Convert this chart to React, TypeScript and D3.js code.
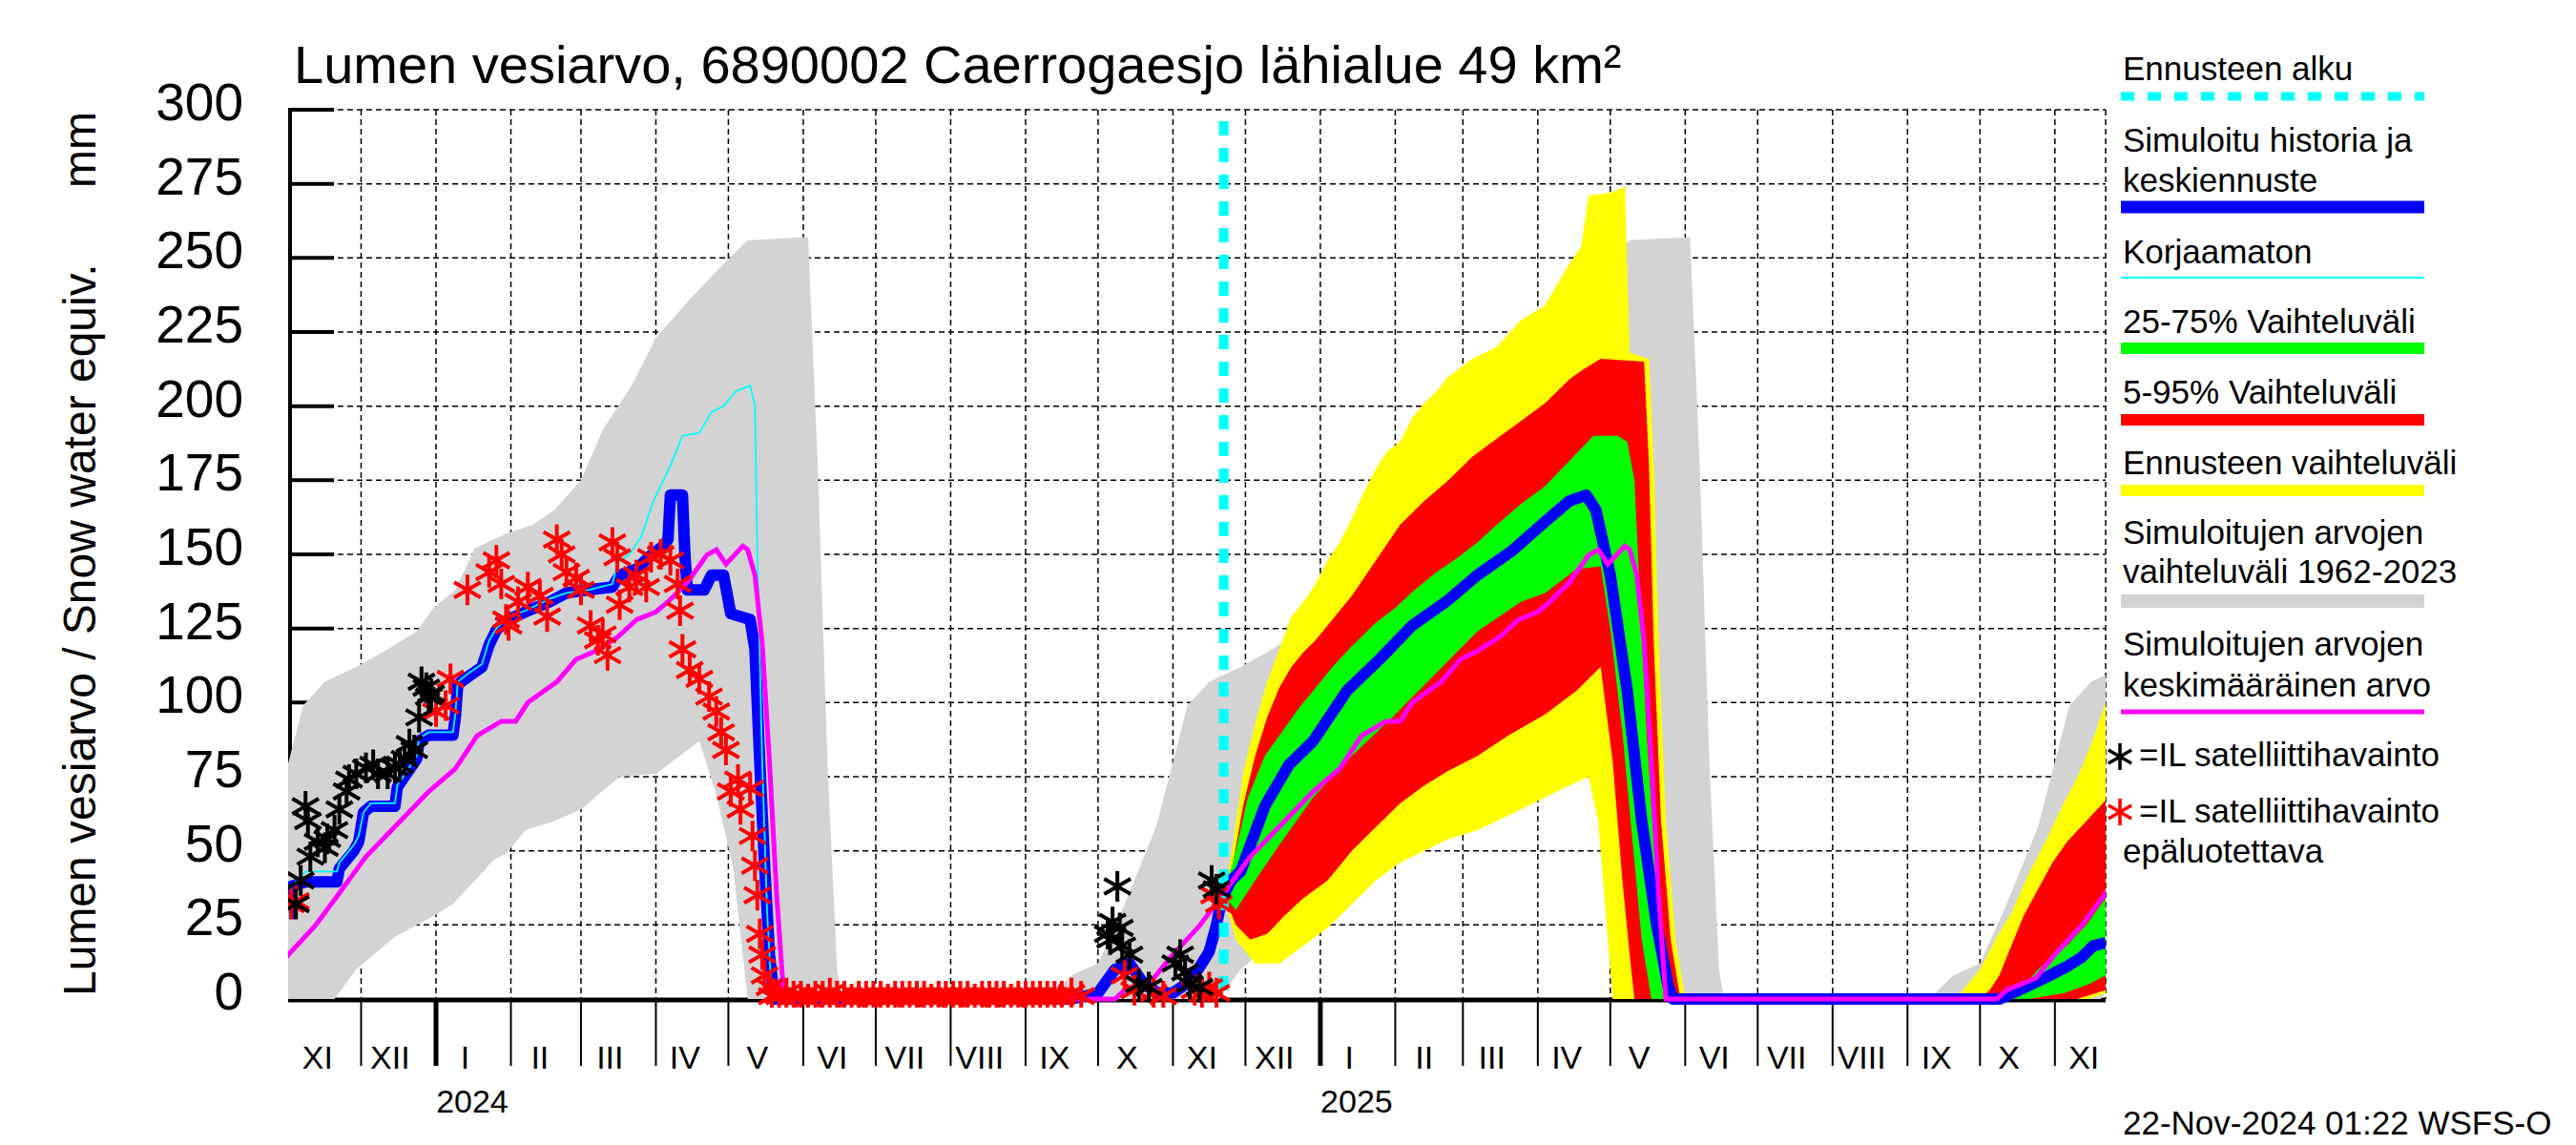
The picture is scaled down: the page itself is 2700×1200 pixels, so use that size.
import React from "react";
import * as d3 from "d3";

type P = [string, number];

const DOMAIN: [string, string] = ["2023-11-01", "2025-11-22"];
const FORECAST_START = "2024-11-22";
const Y_TICKS = [0, 25, 50, 75, 100, 125, 150, 175, 200, 225, 250, 275, 300];
const MONTH_LABELS = ["I", "II", "III", "IV", "V", "VI", "VII", "VIII", "IX", "X", "XI", "XII"];
const SEASONS = [2023, 2024, 2025];
const TITLE = "Lumen vesiarvo, 6890002 Caerrogaesjo lähialue 49 km²";
const Y_LABEL = "Lumen vesiarvo / Snow water equiv.";
const Y_UNIT = "mm";
const FOOTER = "22-Nov-2024 01:22 WSFS-O";

// Seasonal profiles (month-day) of simulated values 1962-2023
const simUpper: P[] = [
  ["09-10", 0], ["09-20", 8], ["10-01", 12], ["10-11", 30], ["10-25", 58], ["11-01", 80], ["11-07", 99],
  ["11-16", 107], ["11-29", 112], ["12-12", 118], ["12-24", 124], ["12-31", 132], ["01-09", 138],
  ["01-17", 152], ["01-30", 157], ["02-10", 160], ["02-19", 165], ["03-01", 175], ["03-10", 192],
  ["03-22", 207], ["04-01", 223], ["04-15", 236], ["04-29", 248], ["05-09", 256], ["06-03", 257],
  ["06-07", 180], ["06-11", 80], ["06-15", 10], ["06-17", 0],
];
const simLower: P[] = [
  ["09-10", 0], ["11-20", 0], ["11-29", 10], ["12-15", 21], ["12-31", 28], ["01-08", 32], ["01-25", 47],
  ["01-30", 49], ["02-07", 57], ["02-19", 60], ["03-01", 64], ["03-17", 75], ["04-01", 76], ["04-19", 87],
  ["04-26", 69], ["05-03", 44], ["05-09", 0],
];
const simMean: P[] = [
  ["10-08", 0], ["10-12", 3], ["10-18", 5], ["10-24", 7], ["11-01", 15], ["11-12", 24.7], ["11-21", 34.6],
  ["12-03", 48], ["12-16", 59], ["12-29", 70], ["01-09", 77.7], ["01-18", 88.8], ["01-28", 93.7],
  ["02-03", 93.7], ["02-08", 100], ["02-20", 107], ["02-28", 114.6], ["03-06", 117], ["03-16", 122],
  ["03-24", 128], ["04-01", 130.6], ["04-06", 134], ["04-14", 140.5], ["04-22", 149.7], ["04-26", 151.6],
  ["04-30", 146.7], ["05-07", 152.8], ["05-09", 151.6], ["05-12", 143], ["05-15", 120], ["05-18", 80],
  ["05-21", 35], ["05-24", 0],
];

// Simulated history + median forecast
const simulated: P[] = [
  ["2023-11-01", 27], ["2023-11-02", 38], ["2023-11-08", 39.5], ["2023-11-21", 39.5], ["2023-11-22", 44],
  ["2023-11-28", 50], ["2023-11-30", 53], ["2023-12-02", 63], ["2023-12-05", 65], ["2023-12-15", 65],
  ["2023-12-16", 71.5], ["2023-12-24", 81], ["2023-12-25", 87], ["2023-12-29", 89], ["2024-01-08", 89],
  ["2024-01-09", 95], ["2024-01-10", 106], ["2024-01-13", 108], ["2024-01-20", 112], ["2024-01-23", 119.5],
  ["2024-01-26", 124.5], ["2024-01-31", 128], ["2024-02-07", 130.6], ["2024-02-17", 134], ["2024-02-24", 137],
  ["2024-03-04", 138], ["2024-03-14", 139], ["2024-03-17", 143], ["2024-03-24", 145], ["2024-03-29", 149],
  ["2024-04-04", 152.8], ["2024-04-06", 155], ["2024-04-07", 170], ["2024-04-12", 170], ["2024-04-13", 150],
  ["2024-04-14", 138], ["2024-04-21", 138], ["2024-04-24", 143], ["2024-04-29", 143], ["2024-05-02", 130],
  ["2024-05-10", 128], ["2024-05-12", 118], ["2024-05-14", 80], ["2024-05-16", 45], ["2024-05-18", 15],
  ["2024-05-20", 0], ["2024-09-20", 0], ["2024-10-01", 2], ["2024-10-08", 10], ["2024-10-14", 12],
  ["2024-10-20", 5], ["2024-10-26", 2], ["2024-11-01", 2], ["2024-11-08", 6], ["2024-11-13", 12],
  ["2024-11-16", 16], ["2024-11-19", 25], ["2024-11-21", 33], ["2024-11-22", 35],
  ["2024-11-25", 40], ["2024-11-29", 43], ["2024-12-09", 65], ["2024-12-19", 79], ["2024-12-29", 87],
  ["2025-01-12", 104], ["2025-01-26", 115], ["2025-02-08", 126], ["2025-02-22", 134], ["2025-03-07", 143],
  ["2025-03-21", 151], ["2025-04-04", 161], ["2025-04-14", 168], ["2025-04-21", 170], ["2025-04-25", 165],
  ["2025-05-01", 143], ["2025-05-08", 104], ["2025-05-14", 60], ["2025-05-20", 26], ["2025-05-25", 4],
  ["2025-05-27", 0], ["2025-10-09", 0], ["2025-10-17", 3], ["2025-10-25", 6], ["2025-10-30", 8],
  ["2025-11-06", 11], ["2025-11-12", 14], ["2025-11-17", 18], ["2025-11-22", 19],
];

// Uncorrected
const uncorrected: P[] = [
  ["2023-11-01", 27], ["2023-11-02", 38], ["2023-11-08", 43], ["2023-11-21", 43], ["2023-11-22", 46],
  ["2023-11-28", 52], ["2023-11-30", 55], ["2023-12-02", 63], ["2023-12-05", 66], ["2023-12-15", 66],
  ["2023-12-16", 72], ["2023-12-24", 82], ["2023-12-25", 88], ["2023-12-29", 90], ["2024-01-08", 90],
  ["2024-01-09", 96], ["2024-01-10", 107], ["2024-01-13", 109], ["2024-01-20", 113], ["2024-01-23", 121],
  ["2024-01-26", 125], ["2024-01-31", 129], ["2024-02-07", 131], ["2024-02-17", 135], ["2024-02-24", 137],
  ["2024-03-04", 138], ["2024-03-14", 140], ["2024-03-16", 147], ["2024-03-21", 150], ["2024-03-26", 156],
  ["2024-03-31", 168], ["2024-04-07", 180], ["2024-04-12", 190], ["2024-04-19", 191], ["2024-04-24", 198],
  ["2024-04-29", 200], ["2024-05-04", 205], ["2024-05-10", 207], ["2024-05-12", 200], ["2024-05-13", 150],
  ["2024-05-15", 80], ["2024-05-17", 30], ["2024-05-19", 0],
];

// Forecast ranges
const fcMaxUpper: P[] = [
  ["2024-11-22", 35], ["2024-11-25", 48], ["2024-11-30", 76], ["2024-12-05", 93], ["2024-12-10", 107],
  ["2024-12-15", 118], ["2024-12-20", 129], ["2024-12-25", 134], ["2024-12-30", 140], ["2025-01-04", 148],
  ["2025-01-09", 154], ["2025-01-14", 162], ["2025-01-19", 171], ["2025-01-24", 179], ["2025-01-29", 185],
  ["2025-02-03", 188], ["2025-02-08", 196], ["2025-02-13", 201], ["2025-02-18", 205], ["2025-02-23", 210],
  ["2025-03-05", 216], ["2025-03-15", 220], ["2025-03-25", 229], ["2025-04-04", 234], ["2025-04-14", 248],
  ["2025-04-19", 254], ["2025-04-22", 271], ["2025-05-01", 272], ["2025-05-07", 274], ["2025-05-09", 218],
  ["2025-05-17", 216], ["2025-05-19", 180], ["2025-05-21", 120], ["2025-05-24", 60], ["2025-05-28", 20],
  ["2025-06-01", 0], ["2025-09-21", 0], ["2025-09-26", 5], ["2025-10-01", 10], ["2025-10-08", 21],
  ["2025-10-14", 29], ["2025-10-21", 42], ["2025-10-28", 53], ["2025-11-04", 65], ["2025-11-11", 76],
  ["2025-11-17", 88], ["2025-11-22", 100],
];
const fcMinLower: P[] = [
  ["2024-11-22", 35], ["2024-11-27", 20], ["2024-12-05", 12], ["2024-12-15", 12], ["2024-12-25", 18],
  ["2025-01-04", 24], ["2025-01-14", 32], ["2025-01-24", 40], ["2025-02-03", 46], ["2025-02-13", 50],
  ["2025-02-23", 54], ["2025-03-07", 57], ["2025-03-20", 62], ["2025-04-04", 68], ["2025-04-14", 72],
  ["2025-04-22", 75], ["2025-04-26", 60], ["2025-04-29", 30], ["2025-05-02", 0], ["2025-11-15", 0],
  ["2025-11-22", 2],
];
const fc95: P[] = [
  ["2024-11-22", 35], ["2024-11-25", 42], ["2024-11-30", 65], ["2024-12-05", 82], ["2024-12-10", 95],
  ["2024-12-15", 105], ["2024-12-20", 112], ["2024-12-25", 117], ["2024-12-30", 121], ["2025-01-04", 126],
  ["2025-01-14", 136], ["2025-01-24", 148], ["2025-02-03", 160], ["2025-02-13", 168], ["2025-02-23", 175],
  ["2025-03-05", 183], ["2025-03-15", 189], ["2025-03-25", 195], ["2025-04-04", 201], ["2025-04-14", 209],
  ["2025-04-19", 212], ["2025-04-27", 216], ["2025-05-15", 215], ["2025-05-17", 180], ["2025-05-19", 120],
  ["2025-05-22", 60], ["2025-05-26", 20], ["2025-05-30", 0], ["2025-10-01", 0], ["2025-10-05", 3],
  ["2025-10-09", 8], ["2025-10-14", 18], ["2025-10-19", 28], ["2025-10-25", 37], ["2025-10-31", 46],
  ["2025-11-06", 53], ["2025-11-14", 60], ["2025-11-22", 67],
];
const fc5: P[] = [
  ["2024-11-22", 35], ["2024-11-27", 25], ["2024-12-03", 20], ["2024-12-10", 22], ["2024-12-17", 28],
  ["2024-12-25", 34], ["2025-01-04", 40], ["2025-01-14", 50], ["2025-01-24", 58], ["2025-02-03", 66],
  ["2025-02-13", 72], ["2025-02-23", 77], ["2025-03-07", 82], ["2025-03-20", 89], ["2025-04-04", 96],
  ["2025-04-17", 104], ["2025-04-27", 112], ["2025-05-02", 80], ["2025-05-06", 40], ["2025-05-09", 15],
  ["2025-05-11", 0], ["2025-11-10", 0], ["2025-11-22", 3],
];
const fc75: P[] = [
  ["2024-11-22", 35], ["2024-11-27", 50], ["2024-12-02", 68], ["2024-12-09", 82], ["2024-12-16", 90],
  ["2024-12-23", 98], ["2024-12-29", 104], ["2025-01-06", 112], ["2025-01-14", 119], ["2025-01-24", 127],
  ["2025-02-01", 132], ["2025-02-09", 138], ["2025-02-18", 144], ["2025-02-27", 149], ["2025-03-07", 154],
  ["2025-03-15", 160], ["2025-03-25", 167], ["2025-04-04", 173], ["2025-04-11", 179], ["2025-04-17", 184],
  ["2025-04-24", 190], ["2025-05-04", 190], ["2025-05-08", 188], ["2025-05-11", 175], ["2025-05-13", 140],
  ["2025-05-16", 90], ["2025-05-20", 40], ["2025-05-24", 10], ["2025-05-28", 0], ["2025-10-13", 0],
  ["2025-10-18", 3], ["2025-10-25", 10], ["2025-10-31", 14], ["2025-11-06", 18], ["2025-11-14", 25],
  ["2025-11-22", 34],
];
const fc25: P[] = [
  ["2024-11-22", 35], ["2024-11-27", 30], ["2024-12-05", 40], ["2024-12-15", 52], ["2024-12-29", 68],
  ["2025-01-14", 82], ["2025-02-01", 96], ["2025-02-18", 110], ["2025-03-07", 124], ["2025-03-25", 134],
  ["2025-04-04", 137], ["2025-04-17", 145], ["2025-04-27", 146], ["2025-05-01", 125], ["2025-05-06", 90],
  ["2025-05-10", 55], ["2025-05-14", 20], ["2025-05-18", 0], ["2025-10-21", 0], ["2025-11-05", 2],
  ["2025-11-15", 5], ["2025-11-22", 8],
];

// Satellite observations
const satReliable: P[] = [
  ["2023-11-04", 32], ["2023-11-06", 40], ["2023-11-08", 65], ["2023-11-09", 60], ["2023-11-10", 48],
  ["2023-11-13", 53], ["2023-11-16", 51], ["2023-11-17", 54], ["2023-11-20", 57], ["2023-11-22", 64],
  ["2023-11-25", 70], ["2023-11-26", 74], ["2023-11-29", 76], ["2023-12-03", 78], ["2023-12-06", 79],
  ["2023-12-08", 76], ["2023-12-12", 76], ["2023-12-15", 78], ["2023-12-17", 79], ["2023-12-19", 81],
  ["2023-12-21", 86], ["2023-12-23", 84], ["2023-12-25", 95], ["2023-12-26", 107], ["2023-12-28", 105],
  ["2023-12-29", 102], ["2023-12-30", 103],
  ["2024-10-05", 22], ["2024-10-06", 20], ["2024-10-07", 26], ["2024-10-09", 38], ["2024-10-10", 24],
  ["2024-10-11", 18], ["2024-10-14", 15], ["2024-10-18", 5], ["2024-10-22", 4], ["2024-11-02", 12],
  ["2024-11-04", 15], ["2024-11-06", 9], ["2024-11-08", 5], ["2024-11-12", 4], ["2024-11-17", 40],
  ["2024-11-19", 37],
];
const satUnreliable: P[] = [
  ["2023-11-02", 32], ["2023-11-04", 33], ["2024-01-01", 97], ["2024-01-05", 99], ["2024-01-07", 108],
  ["2024-01-14", 138], ["2024-01-23", 144], ["2024-01-26", 148], ["2024-01-28", 140], ["2024-01-30", 128],
  ["2024-01-31", 126], ["2024-02-04", 134], ["2024-02-08", 139], ["2024-02-13", 136], ["2024-02-16", 129],
  ["2024-02-20", 155], ["2024-02-22", 150], ["2024-02-24", 144], ["2024-02-28", 142], ["2024-03-01", 138],
  ["2024-03-05", 126], ["2024-03-08", 121], ["2024-03-10", 123], ["2024-03-12", 116], ["2024-03-14", 154],
  ["2024-03-16", 149], ["2024-03-17", 133], ["2024-03-21", 139], ["2024-03-24", 143], ["2024-03-28", 139],
  ["2024-03-30", 149], ["2024-04-03", 150], ["2024-04-07", 148], ["2024-04-10", 140], ["2024-04-11", 131],
  ["2024-04-12", 118], ["2024-04-15", 111], ["2024-04-19", 108], ["2024-04-23", 102], ["2024-04-26", 97],
  ["2024-04-28", 90], ["2024-04-30", 84], ["2024-05-02", 70], ["2024-05-05", 74], ["2024-05-06", 64],
  ["2024-05-10", 71], ["2024-05-11", 55], ["2024-05-12", 45], ["2024-05-13", 35], ["2024-05-14", 22],
  ["2024-05-15", 15], ["2024-05-16", 8], ["2024-05-18", 4],
  ["2024-05-19", 1], ["2024-05-22", 1], ["2024-05-25", 2], ["2024-05-28", 1], ["2024-05-31", 1],
  ["2024-06-03", 0], ["2024-06-06", 1], ["2024-06-09", 1], ["2024-06-12", 2], ["2024-06-15", 1],
  ["2024-06-18", 1], ["2024-06-21", 0], ["2024-06-24", 1], ["2024-06-27", 1], ["2024-06-30", 1],
  ["2024-07-03", 1], ["2024-07-06", 0], ["2024-07-09", 1], ["2024-07-12", 1], ["2024-07-15", 1],
  ["2024-07-18", 1], ["2024-07-21", 1], ["2024-07-24", 0], ["2024-07-27", 1], ["2024-07-30", 1],
  ["2024-08-02", 1], ["2024-08-05", 1], ["2024-08-08", 1], ["2024-08-11", 0], ["2024-08-14", 1],
  ["2024-08-17", 1], ["2024-08-20", 1], ["2024-08-23", 1], ["2024-08-26", 0], ["2024-08-29", 1],
  ["2024-09-01", 1], ["2024-09-04", 1], ["2024-09-07", 1], ["2024-09-10", 1], ["2024-09-13", 1],
  ["2024-09-16", 1], ["2024-09-20", 2], ["2024-09-24", 1], ["2024-10-12", 8], ["2024-10-16", 3],
  ["2024-10-24", 2], ["2024-10-28", 1], ["2024-11-10", 3], ["2024-11-13", 2], ["2024-11-16", 4],
  ["2024-11-18", 35], ["2024-11-19", 2], ["2024-11-20", 32],
];

const FONT = "'Liberation Sans', Arial, Helvetica, sans-serif";
const parse = d3.utcParse("%Y-%m-%d");

function seasonDate(season: number, md: string): Date {
  const m = +md.slice(0, 2);
  const yr = m >= 7 ? season : season + 1;
  return parse(`${yr}-${md}`) as Date;
}

function star(r: number) {
  const c = r * Math.cos(Math.PI / 6);
  const s = r * Math.sin(Math.PI / 6);
  return `M0,${-r}L0,${r}M${-c},${-s}L${c},${s}M${-c},${s}L${c},${-s}`;
}

export default function App() {
  const x = d3.scaleUtc().domain([parse(DOMAIN[0]) as Date, parse(DOMAIN[1]) as Date]).range([302.5, 2207]);
  const y = d3.scaleLinear().domain([0, 300]).range([1047, 115]);
  const line = d3.line<[Date, number]>().x((d) => x(d[0])).y((d) => y(d[1]));

  const toPts = (arr: P[]): [Date, number][] => arr.map((d) => [parse(d[0]) as Date, d[1]]);
  const seasonPts = (s: number, arr: P[]): [Date, number][] => arr.map((d) => [seasonDate(s, d[0]), d[1]]);
  const band = (up: [Date, number][], lo: [Date, number][]) => (line([...up, ...lo.slice().reverse()]) || "") + "Z";

  const grayBands = SEASONS.map((s) => band(seasonPts(s, simUpper), seasonPts(s, simLower)));
  const meanPts = SEASONS.flatMap((s) => seasonPts(s, simMean));

  const start = parse(DOMAIN[0]) as Date;
  const end = parse(DOMAIN[1]) as Date;
  const months = d3.utcMonth.range(start, d3.utcDay.offset(end, 1));
  const xL = 304, xR = 2207, yT = 115, yB = 1047;

  const starPath = star(16);
  const fx = x(parse(FORECAST_START) as Date);

  return (
    <svg width={2700} height={1200} style={{ position: "absolute", left: 0, top: 0, background: "#fff" }} fontFamily={FONT}>
      <defs>
        <clipPath id="plotclip">
          <rect x={xL - 2} y={yT - 5} width={xR - xL + 2} height={yB - yT + 14} />
        </clipPath>
      </defs>
      <rect x={0} y={0} width={2700} height={1200} fill="#fff" />

      {/* grid */}
      {Y_TICKS.filter((t) => t > 0).map((t) => (
        <line key={"hg" + t} x1={xL} x2={xR} y1={y(t)} y2={y(t)} stroke="#000" strokeWidth={1.5} strokeDasharray="6,4" />
      ))}
      {months.slice(1).map((m, i) => (
        <line key={"vg" + i} x1={x(m)} x2={x(m)} y1={yT} y2={yB} stroke="#000" strokeWidth={1.5} strokeDasharray="6,4" />
      ))}
      <line x1={xR} x2={xR} y1={yT} y2={yB} stroke="#000" strokeWidth={1.5} strokeDasharray="6,4" />

      {/* axes */}
      <line x1={xL} x2={xL} y1={yT - 2} y2={yB + 3} stroke="#000" strokeWidth={4} />
      <line x1={xL - 2} x2={xR} y1={yB + 1} y2={yB + 1} stroke="#000" strokeWidth={5} />
      {Y_TICKS.map((t) => (
        <line key={"yt" + t} x1={xL} x2={350} y1={y(t)} y2={y(t)} stroke="#000" strokeWidth={4} />
      ))}
      {Y_TICKS.map((t) => (
        <text key={"yl" + t} x={255} y={y(t) + 11} fontSize={55} textAnchor="end" fill="#000">{t}</text>
      ))}
      {months.slice(1).map((m, i) => {
        const jan = m.getUTCMonth() === 0;
        return (
          <line key={"mt" + i} x1={x(m)} x2={x(m)} y1={yB} y2={1117} stroke="#000" strokeWidth={jan ? 5 : 2} />
        );
      })}
      {months.map((m, i) => (
        <text key={"ml" + i} x={x(d3.utcDay.offset(m, 12))} y={1120} fontSize={34} textAnchor="middle" fill="#000">
          {MONTH_LABELS[m.getUTCMonth()]}
        </text>
      ))}
      {months.filter((m) => m.getUTCMonth() === 0).map((m, i) => (
        <text key={"yr" + i} x={x(d3.utcDay.offset(m, 15))} y={1166} fontSize={34} textAnchor="middle" fill="#000">
          {String(m.getUTCFullYear())}
        </text>
      ))}

      {/* data */}
      <g clipPath="url(#plotclip)">
        {grayBands.map((d, i) => (
          <path key={"gb" + i} d={d} fill="#d3d3d3" stroke="none" />
        ))}
        <path d={band(toPts(fcMaxUpper), toPts(fcMinLower))} fill="#ffff00" />
        <path d={band(toPts(fc95), toPts(fc5))} fill="#ff0000" />
        <path d={band(toPts(fc75), toPts(fc25))} fill="#00ff00" />
        <path d={line(toPts(simulated)) || ""} fill="none" stroke="#0000ff" strokeWidth={12} strokeLinejoin="round" />
        <path d={line(toPts(uncorrected)) || ""} fill="none" stroke="#00ffff" strokeWidth={1.8} />
        <path d={line(meanPts) || ""} fill="none" stroke="#ff00ff" strokeWidth={5} />
        <line x1={fx} x2={fx} y1={127} y2={yB} stroke="#00ffff" strokeWidth={10} strokeDasharray="15,13" />
        {toPts(satUnreliable).map((d, i) => (
          <path key={"sr" + i} d={starPath} transform={`translate(${x(d[0])},${y(d[1])})`} stroke="#ff0000" strokeWidth={4} fill="none" />
        ))}
        {toPts(satReliable).map((d, i) => (
          <path key={"sb" + i} d={starPath} transform={`translate(${x(d[0])},${y(d[1])})`} stroke="#000" strokeWidth={4} fill="none" />
        ))}
      </g>

      {/* title & labels */}
      <text x={308} y={87} fontSize={56} fill="#000">{TITLE}</text>
      <text transform="translate(100,1044) rotate(-90)" fontSize={48} fill="#000">{Y_LABEL}</text>
      <text transform="translate(100,117) rotate(-90)" fontSize={48} textAnchor="end" fill="#000">{Y_UNIT}</text>

      {/* legend */}
      <g fontSize={35} fill="#000">
        <text x={2225} y={84}>Ennusteen alku</text>
        <line x1={2223} x2={2541} y1={101} y2={101} stroke="#00ffff" strokeWidth={9} strokeDasharray="14,14" />
        <text x={2225} y={159}>Simuloitu historia ja</text>
        <text x={2225} y={201}>keskiennuste</text>
        <line x1={2223} x2={2541} y1={217} y2={217} stroke="#0000ff" strokeWidth={13} />
        <text x={2225} y={276}>Korjaamaton</text>
        <line x1={2223} x2={2541} y1={291} y2={291} stroke="#00ffff" strokeWidth={1.8} />
        <text x={2225} y={349}>25-75% Vaihteluväli</text>
        <line x1={2223} x2={2541} y1={365} y2={365} stroke="#00ff00" strokeWidth={12} />
        <text x={2225} y={423}>5-95% Vaihteluväli</text>
        <line x1={2223} x2={2541} y1={440} y2={440} stroke="#ff0000" strokeWidth={12} />
        <text x={2225} y={497}>Ennusteen vaihteluväli</text>
        <line x1={2223} x2={2541} y1={514} y2={514} stroke="#ffff00" strokeWidth={12} />
        <text x={2225} y={570}>Simuloitujen arvojen</text>
        <text x={2225} y={611}>vaihteluväli 1962-2023</text>
        <line x1={2223} x2={2541} y1={630} y2={630} stroke="#d3d3d3" strokeWidth={14} />
        <text x={2225} y={687}>Simuloitujen arvojen</text>
        <text x={2225} y={730}>keskimääräinen arvo</text>
        <line x1={2223} x2={2541} y1={746} y2={746} stroke="#ff00ff" strokeWidth={5} />
        <path d={star(14)} transform="translate(2222,793)" stroke="#000" strokeWidth={3.5} fill="none" />
        <text x={2242} y={803}>=IL satelliittihavainto</text>
        <path d={star(14)} transform="translate(2222,851)" stroke="#ff0000" strokeWidth={3.5} fill="none" />
        <text x={2242} y={862}>=IL satelliittihavainto</text>
        <text x={2225} y={904}>epäluotettava</text>
      </g>

      <text x={2225} y={1189} fontSize={35} fill="#000">{FOOTER}</text>
    </svg>
  );
}
